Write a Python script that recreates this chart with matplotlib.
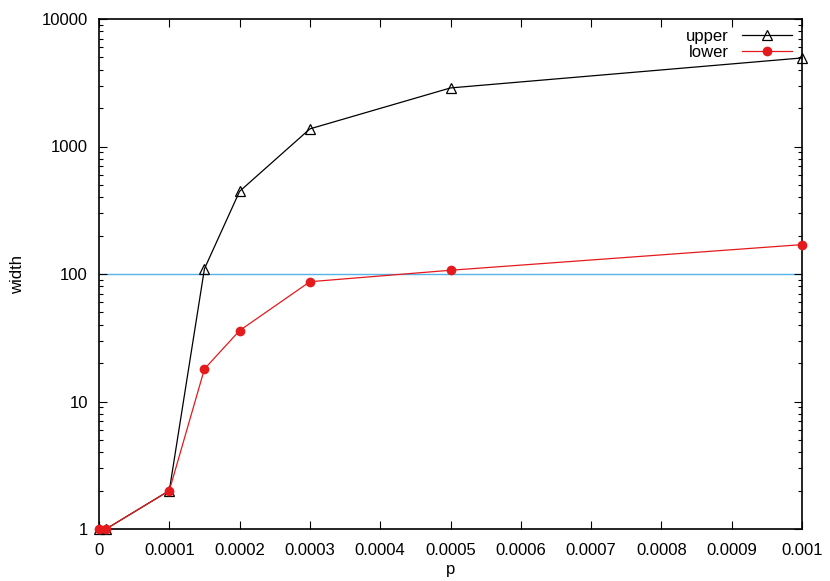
import numpy as np
import matplotlib.pyplot as plt
from matplotlib.ticker import LogLocator, NullFormatter

plt.rcParams["font.family"] = ["Liberation Sans", "DejaVu Sans"]

p = [0.0, 0.00001, 0.0001, 0.00015, 0.0002, 0.0003, 0.0005, 0.001]
upper = [1, 1, 2, 110, 445, 1375, 2880, 4950]
lower = [1, 1, 2, 18, 36, 87, 107, 170]
threshold = 100
xticks = [0, 0.0001, 0.0002, 0.0003, 0.0004, 0.0005, 0.0006, 0.0007, 0.0008, 0.0009, 0.001]
xtick_labels = ["0", "0.0001", "0.0002", "0.0003", "0.0004", "0.0005",
                "0.0006", "0.0007", "0.0008", "0.0009", "0.001"]
yticks = [1, 10, 100, 1000, 10000]

fig = plt.figure(figsize=(8.3, 5.81), dpi=100)
ax = fig.add_axes([99 / 830, 1 - 529 / 581, 703 / 830, 510 / 581])

ax.axhline(threshold, color="#56b4e9", linewidth=1.0, zorder=1)
ax.plot(p, upper, color="black", linewidth=0.9, marker="^", markersize=6.5,
        markerfacecolor="none", markeredgecolor="black", markeredgewidth=0.9,
        label="upper", zorder=3, clip_on=False)
ax.plot(p, lower, color="#e41a1c", linewidth=0.9, marker="o", markersize=7,
        markeredgewidth=0, label="lower", zorder=4, clip_on=False)

ax.set_yscale("log")
ax.set_xlim(0, 0.001)
ax.set_ylim(1, 10000)
ax.set_xticks(xticks)
ax.set_xticklabels(xtick_labels)
ax.set_yticks(yticks)
ax.set_yticklabels([str(v) for v in yticks])
ax.yaxis.set_minor_locator(LogLocator(base=10, subs=np.arange(2, 10)))
ax.yaxis.set_minor_formatter(NullFormatter())

ax.tick_params(which="both", direction="in", top=True, right=True, labelsize=12)
ax.tick_params(axis="x", pad=10)
ax.tick_params(axis="y", pad=8)
ax.tick_params(which="major", length=6, width=0.8)
ax.tick_params(which="minor", length=3, width=0.8)
for s in ax.spines.values():
    s.set_linewidth(1.2)

ax.set_xlabel("p", fontsize=12, labelpad=3)
ax.set_ylabel("width", fontsize=12, labelpad=12)

ax.legend(loc="upper right", frameon=False, markerfirst=False, fontsize=12,
          handlelength=3.0, borderaxespad=0.2, labelspacing=0.05, handletextpad=0.8)

fig.savefig("out.png", dpi=100)
